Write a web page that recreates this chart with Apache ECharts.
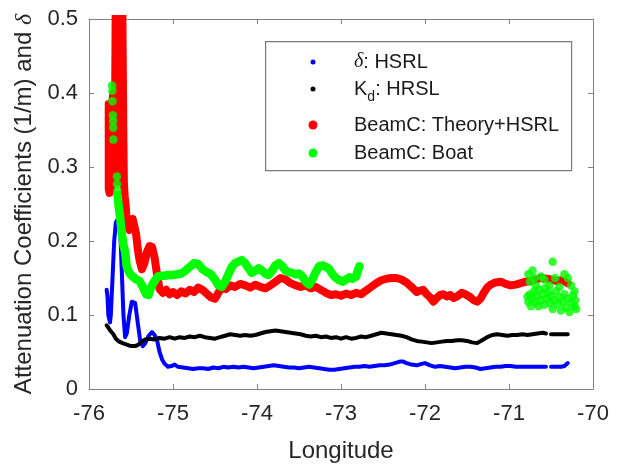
<!DOCTYPE html>
<html>
<head>
<meta charset="utf-8">
<script src="https://cdn.jsdelivr.net/npm/echarts@6/dist/echarts.min.js"></script>
<style>
html,body{margin:0;padding:0;background:#fff;}
#chart{width:619px;height:468px;}
</style>
</head>
<body>
<div id="chart"></div>
<script>
// ---- data (longitude, value) ----
const xTicks = [-76, -75, -74, -73, -72, -71, -70];
const yTicks = [0, 0.1, 0.2, 0.3, 0.4, 0.5];
const seriesNames = ['δ: HSRL', 'K_d: HRSL', 'BeamC: Theory+HSRL', 'BeamC: Boat'];

const deltaHSRL = [[-75.79,0.134],[-75.78,0.125],[-75.77,0.10],[-75.75,0.09],[-75.74,0.10],[-75.72,0.15],[-75.70,0.20],[-75.68,0.225],[-75.66,0.229],[-75.64,0.228],[-75.63,0.22],[-75.61,0.16],[-75.59,0.10],[-75.57,0.07],[-75.55,0.075],[-75.52,0.10],[-75.49,0.118],[-75.45,0.116],[-75.42,0.09],[-75.39,0.065],[-75.36,0.058],[-75.33,0.062],[-75.29,0.072],[-75.25,0.077],[-75.22,0.073],[-75.19,0.066],[-75.16,0.05],[-75.13,0.04],[-75.10,0.034],[-75.06,0.03],[-75.02,0.031],[-74.98,0.033],[-74.94,0.03],[-74.88,0.029],[-74.82,0.028],[-74.76,0.027],[-74.70,0.028],[-74.64,0.028],[-74.58,0.027],[-74.52,0.029],[-74.46,0.028],[-74.40,0.03],[-74.34,0.029],[-74.28,0.03],[-74.22,0.029],[-74.16,0.03],[-74.10,0.029],[-74.04,0.028],[-73.98,0.029],[-73.92,0.03],[-73.86,0.031],[-73.80,0.032],[-73.74,0.031],[-73.68,0.03],[-73.62,0.029],[-73.56,0.029],[-73.50,0.028],[-73.44,0.029],[-73.38,0.03],[-73.32,0.029],[-73.26,0.028],[-73.20,0.027],[-73.14,0.026],[-73.08,0.026],[-73.02,0.027],[-72.96,0.028],[-72.90,0.029],[-72.84,0.03],[-72.78,0.03],[-72.72,0.031],[-72.66,0.03],[-72.60,0.031],[-72.54,0.032],[-72.48,0.032],[-72.42,0.033],[-72.36,0.035],[-72.30,0.037],[-72.26,0.037],[-72.22,0.035],[-72.16,0.033],[-72.10,0.032],[-72.04,0.034],[-72.00,0.035],[-71.94,0.032],[-71.88,0.03],[-71.82,0.031],[-71.76,0.03],[-71.70,0.029],[-71.64,0.028],[-71.58,0.029],[-71.52,0.03],[-71.46,0.03],[-71.40,0.029],[-71.34,0.027],[-71.28,0.028],[-71.22,0.029],[-71.16,0.03],[-71.10,0.03],[-71.04,0.031],[-70.98,0.031],[-70.92,0.03],[-70.86,0.03],[-70.80,0.03],[-70.74,0.03],[-70.68,0.03],[-70.62,0.03],[-70.56,0.03],[-70.53,null],[-70.50,0.03],[-70.44,0.03],[-70.38,0.03],[-70.34,0.031],[-70.31,0.034],[-70.30,0.035]];

const kdHSRL = [[-75.79,0.086],[-75.77,0.083],[-75.74,0.078],[-75.71,0.074],[-75.68,0.068],[-75.64,0.064],[-75.60,0.062],[-75.55,0.06],[-75.50,0.058],[-75.45,0.058],[-75.41,0.06],[-75.37,0.064],[-75.33,0.067],[-75.28,0.068],[-75.22,0.067],[-75.16,0.069],[-75.10,0.068],[-75.04,0.07],[-74.98,0.068],[-74.92,0.07],[-74.86,0.069],[-74.80,0.071],[-74.74,0.07],[-74.68,0.072],[-74.62,0.07],[-74.56,0.069],[-74.50,0.068],[-74.44,0.07],[-74.38,0.072],[-74.32,0.074],[-74.26,0.073],[-74.20,0.072],[-74.14,0.073],[-74.08,0.072],[-74.02,0.073],[-73.96,0.075],[-73.90,0.077],[-73.84,0.078],[-73.78,0.079],[-73.72,0.078],[-73.66,0.077],[-73.60,0.076],[-73.54,0.075],[-73.48,0.074],[-73.42,0.072],[-73.36,0.071],[-73.30,0.072],[-73.24,0.07],[-73.18,0.071],[-73.12,0.069],[-73.06,0.07],[-73.00,0.068],[-72.94,0.07],[-72.88,0.068],[-72.82,0.069],[-72.76,0.071],[-72.70,0.07],[-72.64,0.072],[-72.58,0.074],[-72.52,0.076],[-72.46,0.075],[-72.40,0.074],[-72.34,0.073],[-72.28,0.072],[-72.22,0.07],[-72.16,0.067],[-72.10,0.065],[-72.04,0.064],[-71.98,0.063],[-71.92,0.062],[-71.86,0.063],[-71.80,0.064],[-71.74,0.065],[-71.68,0.065],[-71.62,0.066],[-71.56,0.066],[-71.50,0.065],[-71.44,0.063],[-71.38,0.062],[-71.32,0.066],[-71.26,0.07],[-71.20,0.073],[-71.14,0.074],[-71.08,0.073],[-71.02,0.072],[-70.96,0.073],[-70.90,0.073],[-70.84,0.074],[-70.78,0.073],[-70.72,0.074],[-70.66,0.075],[-70.60,0.076],[-70.56,0.075],[-70.53,null],[-70.50,0.074],[-70.44,0.074],[-70.38,0.074],[-70.30,0.074]];

const beamTheory = [[-75.765,0.385],[-75.765,0.33],[-75.765,0.27],[-75.755,0.265],[-75.75,0.32],[-75.75,0.38],[-75.74,0.38],[-75.74,0.32],[-75.735,0.27],[-75.725,0.27],[-75.72,0.33],[-75.72,0.39],[-75.71,0.40],[-75.705,0.34],[-75.70,0.28],[-75.69,0.30],[-75.69,0.38],[-75.685,0.46],[-75.68,0.56],[-75.66,0.56],[-75.655,0.48],[-75.65,0.40],[-75.645,0.32],[-75.64,0.28],[-75.635,0.34],[-75.63,0.42],[-75.625,0.50],[-75.62,0.56],[-75.605,0.54],[-75.60,0.47],[-75.595,0.40],[-75.59,0.33],[-75.585,0.28],[-75.575,0.26],[-75.565,0.25],[-75.555,0.235],[-75.54,0.22],[-75.52,0.215],[-75.50,0.225],[-75.48,0.23],[-75.46,0.228],[-75.44,0.21],[-75.42,0.19],[-75.40,0.175],[-75.37,0.162],[-75.34,0.17],[-75.31,0.185],[-75.28,0.193],[-75.25,0.192],[-75.22,0.178],[-75.19,0.155],[-75.16,0.135],[-75.12,0.13],[-75.08,0.134],[-75.04,0.128],[-75.00,0.131],[-74.95,0.127],[-74.90,0.132],[-74.85,0.129],[-74.80,0.134],[-74.75,0.131],[-74.70,0.137],[-74.65,0.134],[-74.60,0.129],[-74.55,0.124],[-74.50,0.122],[-74.46,0.13],[-74.42,0.137],[-74.37,0.135],[-74.32,0.14],[-74.26,0.138],[-74.20,0.142],[-74.14,0.14],[-74.08,0.137],[-74.02,0.141],[-73.96,0.138],[-73.90,0.136],[-73.84,0.14],[-73.78,0.145],[-73.72,0.15],[-73.66,0.148],[-73.60,0.143],[-73.54,0.14],[-73.48,0.138],[-73.42,0.14],[-73.36,0.136],[-73.30,0.138],[-73.24,0.134],[-73.18,0.13],[-73.12,0.127],[-73.06,0.128],[-73.00,0.126],[-72.94,0.129],[-72.88,0.127],[-72.82,0.13],[-72.76,0.128],[-72.70,0.133],[-72.64,0.138],[-72.58,0.143],[-72.52,0.147],[-72.46,0.149],[-72.40,0.15],[-72.34,0.15],[-72.28,0.148],[-72.22,0.144],[-72.16,0.138],[-72.10,0.131],[-72.06,0.133],[-72.02,0.134],[-71.98,0.128],[-71.94,0.124],[-71.90,0.118],[-71.86,0.123],[-71.82,0.127],[-71.78,0.128],[-71.74,0.125],[-71.70,0.127],[-71.66,0.123],[-71.62,0.125],[-71.56,0.13],[-71.52,0.128],[-71.46,0.124],[-71.42,0.12],[-71.38,0.118],[-71.34,0.122],[-71.30,0.13],[-71.26,0.137],[-71.22,0.141],[-71.16,0.144],[-71.10,0.145],[-71.04,0.142],[-70.98,0.14],[-70.92,0.141],[-70.86,0.143],[-70.80,0.145],[-70.74,0.146],[-70.68,0.148],[-70.62,0.15],[-70.56,0.149],[-70.50,0.148],[-70.44,0.146],[-70.38,0.147],[-70.33,0.145],[-70.30,0.143]];

const beamBoatTrack = [[-75.66,0.262],[-75.65,0.25],[-75.63,0.233],[-75.61,0.21],[-75.59,0.195],[-75.57,0.185],[-75.55,0.165],[-75.52,0.157],[-75.48,0.152],[-75.44,0.148],[-75.40,0.146],[-75.36,0.138],[-75.32,0.128],[-75.29,0.127],[-75.26,0.138],[-75.22,0.146],[-75.18,0.152],[-75.14,0.153],[-75.10,0.153],[-75.05,0.154],[-75.00,0.154],[-74.95,0.155],[-74.90,0.156],[-74.85,0.16],[-74.80,0.165],[-74.75,0.17],[-74.70,0.169],[-74.65,0.162],[-74.60,0.158],[-74.55,0.155],[-74.50,0.148],[-74.46,0.14],[-74.42,0.138],[-74.38,0.145],[-74.34,0.155],[-74.30,0.165],[-74.26,0.17],[-74.22,0.172],[-74.18,0.174],[-74.14,0.17],[-74.10,0.163],[-74.06,0.157],[-74.02,0.16],[-73.98,0.163],[-73.94,0.16],[-73.90,0.156],[-73.86,0.154],[-73.82,0.16],[-73.78,0.167],[-73.74,0.17],[-73.70,0.166],[-73.66,0.16],[-73.62,0.158],[-73.58,0.157],[-73.54,0.155],[-73.50,0.156],[-73.46,0.152],[-73.42,0.145],[-73.38,0.141],[-73.34,0.148],[-73.30,0.158],[-73.26,0.166],[-73.22,0.167],[-73.18,0.165],[-73.14,0.162],[-73.10,0.155],[-73.06,0.15],[-73.02,0.147],[-72.98,0.145],[-72.94,0.148],[-72.90,0.151],[-72.86,0.149],[-72.82,0.152],[-72.80,0.16],[-72.78,0.166]];

const beamBoatDots = [[-75.726,0.41],[-75.722,0.403],[-75.72,0.389],[-75.716,0.37],[-75.713,0.362],[-75.712,0.353],[-75.71,0.337],[-75.668,0.287],[-75.666,0.277],[-75.662,0.268],
[-70.77,0.155],[-70.75,0.145],[-70.72,0.16],[-70.70,0.15],[-70.68,0.14],[-70.62,0.152],[-70.58,0.148],[-70.52,0.14],[-70.48,0.172],[-70.45,0.15],[-70.40,0.138],[-70.34,0.155],[-70.30,0.15],[-70.26,0.14],[-70.22,0.132],
[-70.78,0.125],[-70.77,0.118],[-70.75,0.128],[-70.74,0.112],[-70.72,0.122],[-70.70,0.132],[-70.69,0.118],[-70.67,0.126],[-70.65,0.112],[-70.64,0.134],[-70.62,0.12],[-70.60,0.128],[-70.58,0.114],[-70.57,0.136],[-70.55,0.122],[-70.53,0.13],[-70.51,0.116],[-70.50,0.126],[-70.48,0.108],[-70.46,0.12],[-70.44,0.132],[-70.42,0.115],[-70.40,0.124],[-70.38,0.106],[-70.36,0.118],[-70.34,0.128],[-70.32,0.11],[-70.30,0.122],[-70.28,0.104],[-70.26,0.116],[-70.24,0.126],[-70.22,0.112],[-70.21,0.12],[-70.20,0.108]];

// ---- chart ----
const FONT = "'Liberation Sans', Arial, Helvetica, sans-serif";
const TXT = '#262626';
const AX = '#808080';
const LEG = '#1a1a1a';
const chart = echarts.init(document.getElementById('chart'), null, {renderer: 'canvas'});

function axisCommon(extra) {
  return Object.assign({
    type: 'value',
    axisLine: {show: true, onZero: false, lineStyle: {color: AX, width: 1}},
    axisTick: {show: true, inside: true, length: 5, lineStyle: {color: AX}},
    splitLine: {show: false}
  }, extra);
}

function legendRow(name, top, size, label) {
  return {
    data: [name], orient: 'vertical', top: top, left: 313 - size / 2, padding: 0,
    icon: 'circle', itemWidth: size, itemHeight: size, selectedMode: false,
    formatter: function () { return label; },
    textStyle: {fontSize: 20, color: LEG, fontFamily: FONT, padding: [0, 0, 0, 36 - size / 2],
      rich: {
        i: {fontSize: 20, fontStyle: 'italic', fontFamily: "'Liberation Serif', serif", color: LEG},
        n: {fontSize: 20, fontFamily: FONT, color: LEG},
        s: {fontSize: 14, fontFamily: FONT, color: LEG, padding: [16, 0, 0, 0]}
      }
    }
  };
}

const option = {
  animation: false,
  backgroundColor: '#fff',
  grid: {left: 89, right: 26, top: 19, bottom: 72, containLabel: false},
  xAxis: [
    axisCommon({
      min: xTicks[0], max: xTicks[xTicks.length - 1], interval: 1, position: 'bottom',
      axisLabel: {color: TXT, fontSize: 22, fontFamily: FONT, margin: 14},
      name: 'Longitude', nameLocation: 'middle', nameGap: 50,
      nameTextStyle: {color: TXT, fontSize: 24, fontFamily: FONT}
    }),
    axisCommon({
      min: xTicks[0], max: xTicks[xTicks.length - 1], interval: 1, position: 'top',
      axisLabel: {show: false}
    })
  ],
  yAxis: [
    axisCommon({
      min: yTicks[0], max: yTicks[yTicks.length - 1], interval: 0.1, position: 'left',
      axisLabel: {color: TXT, fontSize: 22, fontFamily: FONT, margin: 11,
        formatter: v => String(Number(v.toFixed(1)))},
      name: '{a|Attenuation Coefficients (1/m) and }{d|δ}', nameLocation: 'middle', nameGap: 37,
      nameTextStyle: {color: TXT, fontSize: 24, fontFamily: FONT,
        rich: {a: {fontSize: 24, fontFamily: FONT, color: TXT},
               d: {fontSize: 24, fontStyle: 'italic', fontFamily: "'Liberation Serif', serif", color: TXT}}}
    }),
    axisCommon({
      min: yTicks[0], max: yTicks[yTicks.length - 1], interval: 0.1, position: 'right',
      axisLabel: {show: false}
    })
  ],
  legend: [
    legendRow(seriesNames[0], 52, 5, '{i|δ}{n|: HSRL}'),
    legendRow(seriesNames[1], 79, 5, '{n|K}{s|d}{n|: HRSL}'),
    legendRow(seriesNames[2], 115, 9, 'BeamC: Theory+HSRL'),
    legendRow(seriesNames[3], 143, 9, 'BeamC: Boat')
  ],
  graphic: [{
    type: 'rect', left: 265, top: 41, z: 1,
    shape: {width: 306, height: 129},
    style: {fill: '#fff', stroke: '#7a7a7a', lineWidth: 1.2}
  }],
  series: [
    {name: seriesNames[0], type: 'line', data: deltaHSRL, symbol: 'none', color: '#0000ff',
     connectNulls: false, lineStyle: {width: 4, color: '#0000ff', cap: 'round', join: 'round'}, z: 2},
    {name: seriesNames[1], type: 'line', data: kdHSRL, symbol: 'none', color: '#000000',
     connectNulls: false, lineStyle: {width: 4, color: '#000000', cap: 'round', join: 'round'}, z: 2},
    {name: seriesNames[2], type: 'line', data: beamTheory, symbol: 'none', color: '#ff0000',
     lineStyle: {width: 8, color: '#ff0000', cap: 'round', join: 'round'}, z: 2},
    {name: seriesNames[3], type: 'line', data: beamBoatTrack, symbol: 'none', color: '#00ff00',
     lineStyle: {width: 8.5, color: '#00ff00', cap: 'round', join: 'round'}, z: 2},
    {name: seriesNames[3], type: 'scatter', data: beamBoatDots, symbol: 'circle', symbolSize: 8.5,
     color: '#00ff00', itemStyle: {color: '#00ff00'}, z: 2}
  ]
};
chart.setOption(option);
</script>
</body>
</html>
